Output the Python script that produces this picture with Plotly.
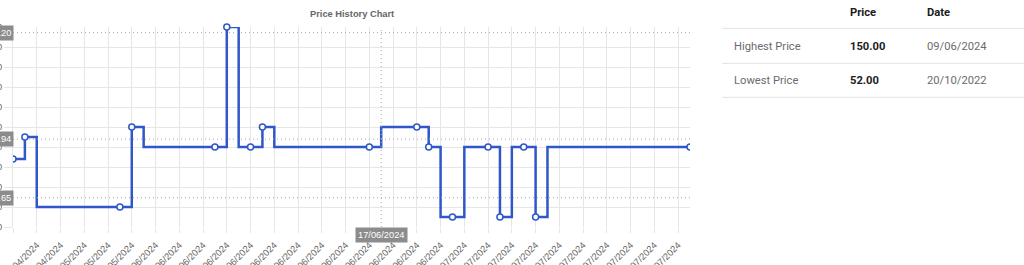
import plotly.graph_objects as go

# ---------------- data ----------------
dates = [
    "16/04/2024", "18/04/2024", "20/04/2024", "23/04/2024", "26/04/2024", "30/04/2024",
    "03/05/2024", "07/05/2024", "11/05/2024", "15/05/2024", "19/05/2024", "24/05/2024",
    "01/06/2024", "03/06/2024", "04/06/2024", "05/06/2024", "06/06/2024", "08/06/2024",
    "09/06/2024", "10/06/2024", "10/06/2024", "11/06/2024", "11/06/2024", "12/06/2024",
    "12/06/2024", "13/06/2024", "14/06/2024", "14/06/2024", "15/06/2024", "16/06/2024",
    "16/06/2024", "17/06/2024", "19/06/2024", "21/06/2024", "23/06/2024", "25/06/2024",
    "28/06/2024", "30/06/2024", "02/07/2024", "03/07/2024", "05/07/2024", "06/07/2024",
    "08/07/2024", "09/07/2024", "10/07/2024", "11/07/2024", "12/07/2024", "13/07/2024",
    "14/07/2024", "15/07/2024", "16/07/2024", "17/07/2024", "18/07/2024", "19/07/2024",
    "20/07/2024", "21/07/2024", "22/07/2024", "23/07/2024",
]
prices = [
    84, 95, 60, 60, 60, 60, 60, 60, 60, 60, 100, 90,
    90, 90, 90, 90, 90, 90, 150, 90, 90, 100, 90, 90,
    90, 90, 90, 90, 90, 90, 90, 100, 100, 100, 100, 90,
    55, 55, 90, 90, 90, 55, 90, 90, 55, 90, 90, 90,
    90, 90, 90, 90, 90, 90, 90, 90, 90, 90,
]
marker_points = [0, 1, 9, 10, 17, 18, 20, 21, 30, 34, 35, 37, 40, 41, 43, 44, 57]
y_ticks = [50, 60, 70, 80, 90, 100, 110, 120, 130, 140, 150]

hover_date = "17/06/2024"
hover_price = 147.20
ref_prices = [93.94, 64.65]

table_header = ["Price", "Date"]
table_labels = ["Highest Price", "Lowest Price"]
table_prices = ["150.00", "52.00"]
table_dates = ["09/06/2024", "20/10/2022"]

# ---------------- layout constants ----------------
W, H = 1024, 265
L, T = 13, 27
PW, PH = 677, 200
R = W - L - PW
B = H - T - PH

BLUE = "#2f57c9"
GRID = "#e6e6e6"
FONT = "Liberation Sans"
TFONT = "Roboto"


def px_x(px):
    return (px - L) / PW


def px_y(py):
    return 1 - (py - T) / PH


x_idx = list(range(len(dates)))
last = len(dates) - 1

fig = go.Figure()
fig.add_trace(go.Scatter(
    x=x_idx, y=prices, mode="lines", line=dict(color=BLUE, width=2.5, shape="hv"),
    hoverinfo="skip", showlegend=False,
))
edge_pts = [p for p in marker_points if p in (0, last)]
inner_pts = [p for p in marker_points if p not in (0, last)]
mk = dict(size=6, color="white", line=dict(color=BLUE, width=1.5))
fig.add_trace(go.Scatter(
    x=edge_pts, y=[prices[i] for i in edge_pts], mode="markers", marker=mk,
    showlegend=False, hoverinfo="skip", cliponaxis=True,
))
fig.add_trace(go.Scatter(
    x=inner_pts, y=[prices[i] for i in inner_pts], mode="markers", marker=mk,
    showlegend=False, hoverinfo="skip", cliponaxis=False,
))

shapes = []
annotations = []

# dotted horizontal lines (hover + references)
for v in [hover_price] + ref_prices:
    shapes.append(dict(type="line", xref="paper", x0=0, x1=1, yref="y", y0=v, y1=v,
                       line=dict(color="#a8a8a8", width=1, dash="1px,3px"), layer="above"))
    annotations.append(dict(xref="paper", x=0, xanchor="right", xshift=1, yref="y", y=v, yanchor="middle",
                            text=f"{v:.2f}", showarrow=False, bgcolor="#8c8c8c",
                            font=dict(family=FONT, size=9.3, color="white"), borderpad=2))

hx = dates.index(hover_date)
shapes.append(dict(type="line", xref="x", x0=hx, x1=hx, yref="paper", y0=0, y1=1,
                   line=dict(color="#a8a8a8", width=1, dash="1px,3px"), layer="above"))
annotations.append(dict(xref="x", x=hx, xanchor="center", yref="paper", y=px_y(235), yanchor="middle",
                        text=hover_date, showarrow=False, bgcolor="#8c8c8c",
                        font=dict(family=FONT, size=9.3, color="white"), borderpad=2))

# title
annotations.append(dict(xref="paper", x=0.5, xanchor="center", yref="paper", y=px_y(14), yanchor="middle",
                        text="<b>Price History Chart</b>", showarrow=False,
                        font=dict(family=FONT, size=9.3, color="#666666")))

# table
for py in [28.3, 63.3, 97.3]:
    shapes.append(dict(type="line", xref="paper", x0=px_x(722), x1=px_x(1024),
                       yref="paper", y0=px_y(py), y1=px_y(py), line=dict(color="#e3e3e3", width=1)))
col_x = [732, 848, 925]
for txt, cx in zip(table_header, col_x[1:]):
    annotations.append(dict(xref="paper", x=px_x(cx), xanchor="left", yref="paper", y=px_y(12.3),
                            yanchor="middle", text=f"<b>{txt}</b>", showarrow=False,
                            font=dict(family=TFONT, size=11.2, color="#1c1c1c")))
for i, (lab, pr, dt) in enumerate(zip(table_labels, table_prices, table_dates)):
    yy = px_y(46.3 + 34.4 * i)
    annotations.append(dict(xref="paper", x=px_x(col_x[0]), xanchor="left", yref="paper", y=yy,
                            yanchor="middle", text=lab, showarrow=False,
                            font=dict(family=TFONT, size=11.2, color="#6b6b6b")))
    annotations.append(dict(xref="paper", x=px_x(col_x[1]), xanchor="left", yref="paper", y=yy,
                            yanchor="middle", text=f"<b>{pr}</b>", showarrow=False,
                            font=dict(family=TFONT, size=11.2, color="#1c1c1c")))
    annotations.append(dict(xref="paper", x=px_x(col_x[2]), xanchor="left", yref="paper", y=yy,
                            yanchor="middle", text=dt, showarrow=False,
                            font=dict(family=TFONT, size=11.2, color="#6b6b6b")))

fig.update_layout(
    template="none",
    width=W, height=H,
    margin=dict(l=L, r=R, t=T, b=B, pad=0),
    paper_bgcolor="white", plot_bgcolor="white",
    shapes=shapes, annotations=annotations,
    showlegend=False,
    xaxis=dict(
        range=[0, last], tickmode="array",
        tickvals=x_idx[::2], ticktext=dates[::2], tickangle=-45,
        showgrid=True, gridcolor=GRID, gridwidth=1, zeroline=False,
        ticks="outside", ticklen=5, tickcolor=GRID, showline=False,
        ticklabelstandoff=3,
        tickfont=dict(family=FONT, size=9.3, color="#666666"), automargin=False,
    ),
    yaxis=dict(
        range=[y_ticks[0], y_ticks[-1]], tickmode="array", tickvals=y_ticks,
        showgrid=True, gridcolor=GRID, gridwidth=1, zeroline=False,
        ticks="outside", ticklen=8, tickcolor=GRID, showline=True, linecolor=GRID,
        tickfont=dict(family=FONT, size=9.3, color="#666666"), automargin=False,
    ),
)

fig.write_html("out.html")
